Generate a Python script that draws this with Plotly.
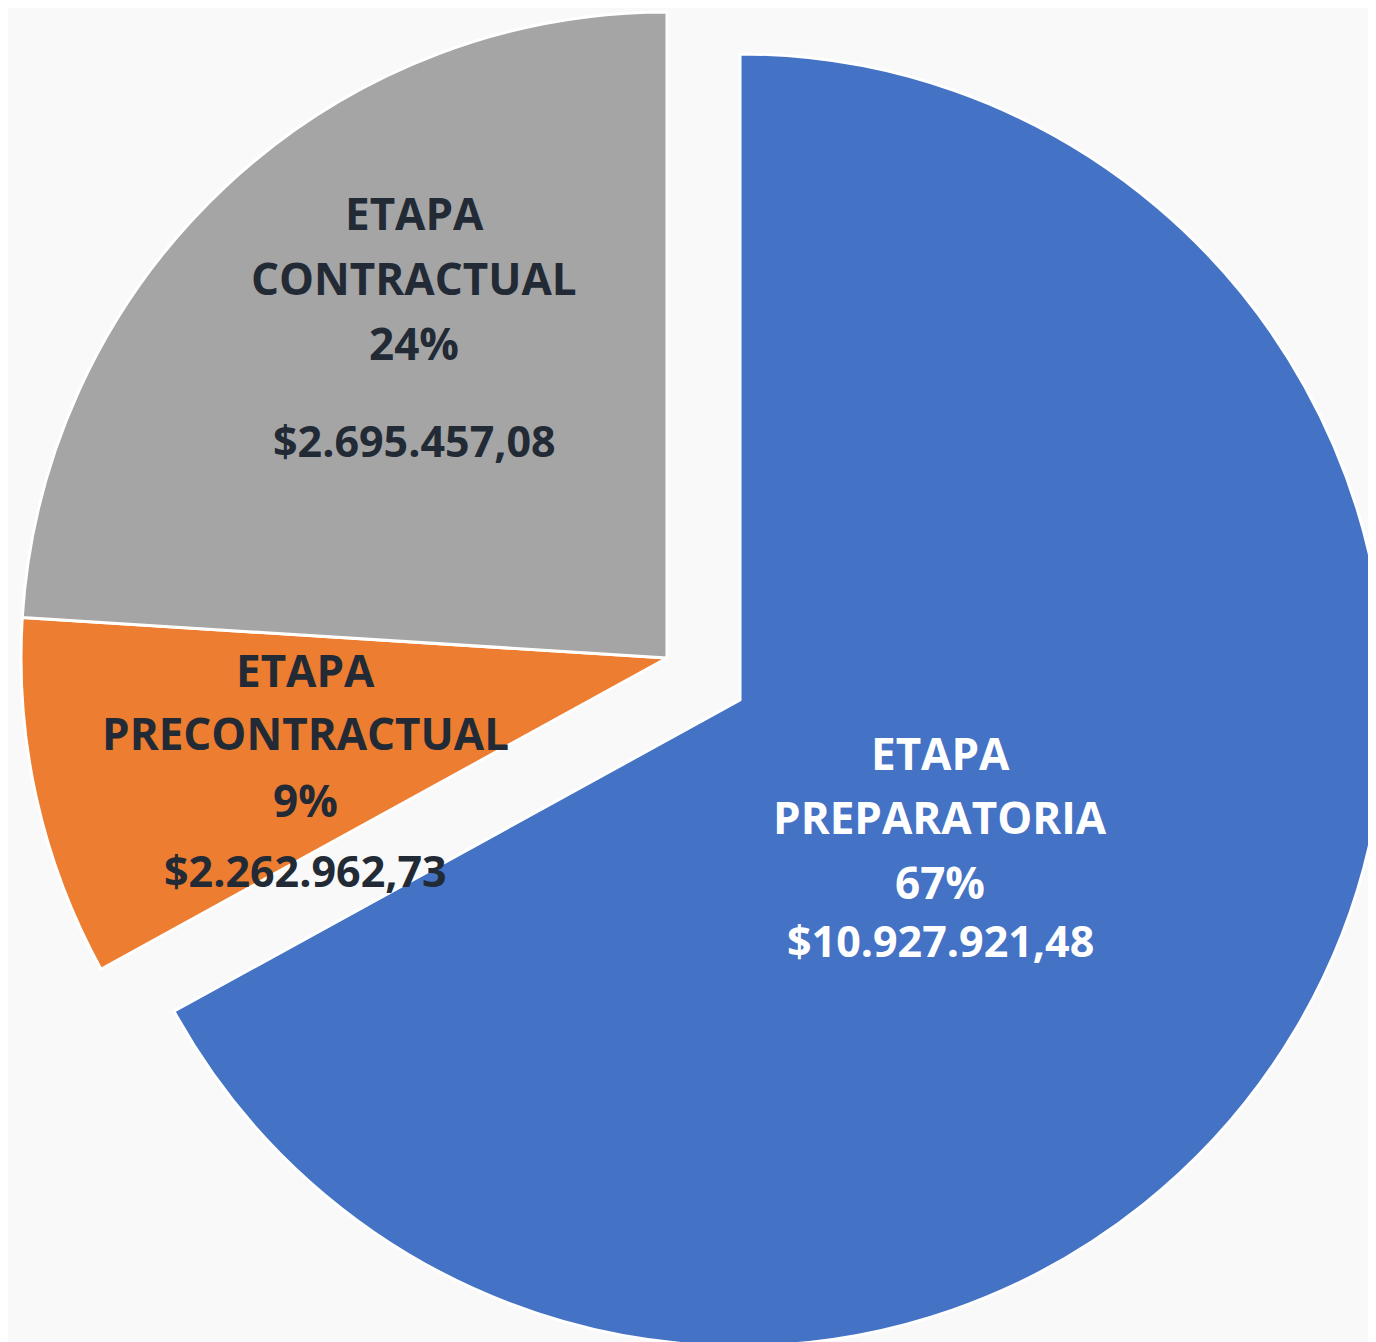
import plotly.graph_objects as go

# ---- data (clockwise from 12 o'clock) ----
stages = ["ETAPA PREPARATORIA", "ETAPA PRECONTRACTUAL", "ETAPA CONTRACTUAL"]
percents = [67, 9, 24]
amounts = ["$10.927.921,48", "$2.262.962,73", "$2.695.457,08"]
label_lines = [["ETAPA", "PREPARATORIA"], ["ETAPA", "PRECONTRACTUAL"], ["ETAPA", "CONTRACTUAL"]]

# ---- style ----
colors = ["#4472c4", "#ed7d31", "#a5a5a5"]
text_colors = ["#ffffff", "#222a35", "#222a35"]
FONT = "Open Sans"
OFF = 8                      # page body margin in the browser
W, H = 1392, 1352            # figure slightly larger than the window (crop like reference)
R = 646
main_center = (667, 658)     # screen pixel centre of the un-exploded slices
blue_center = (740, 700)     # screen pixel centre of the exploded slice
exploded = [True, False, False]


def domain(c, r):
    cx, cy = c[0] - OFF, c[1] - OFF
    return dict(x=[(cx - r) / W, (cx + r) / W],
                y=[1 - (cy + r) / H, 1 - (cy - r) / H])


transparent = "rgba(0,0,0,0)"
fig = go.Figure()
for centre, show in ((main_center, False), (blue_center, True)):
    vis = [e == show for e in exploded]
    fig.add_trace(go.Pie(
        labels=stages, values=percents, sort=False, direction="clockwise",
        rotation=0, textinfo="none", hoverinfo="label+percent",
        marker=dict(colors=[c if v else transparent for c, v in zip(colors, vis)],
                    line=dict(color=["#ffffff" if v else transparent for v in vis],
                              width=[3 if v else 0 for v in vis])),
        domain=domain(centre, R), showlegend=False,
    ))

# label placement (screen pixel centres of each text line)
label_x = [940, 305, 414]
line_y = [[753, 817, 882, 940], [670, 733, 800, 870], [213, 278, 343, 440]]

for i in range(3):
    texts = label_lines[i] + [f"{percents[i]}%", amounts[i]]
    for j, t in enumerate(texts):
        fig.add_annotation(
            x=(label_x[i] - OFF) / W, y=1 - (line_y[i][j] - OFF) / H,
            xref="paper", yref="paper",
            text=f"<b>{t}</b>", showarrow=False, xanchor="center", yanchor="middle",
            font=dict(family=FONT, size=43 if j == 3 else 44, color=text_colors[i]),
        )

fig.update_layout(
    width=W, height=H, margin=dict(l=0, r=0, t=0, b=0),
    paper_bgcolor="#f9f9fa", plot_bgcolor="#f9f9fa",
)
fig.write_html("out.html")
